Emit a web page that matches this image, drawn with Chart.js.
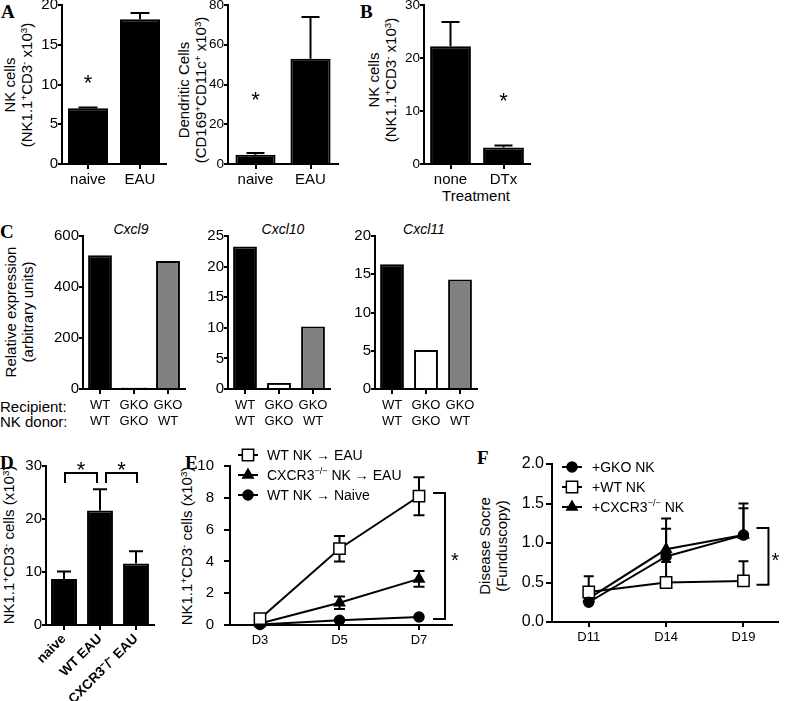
<!DOCTYPE html>
<html><head><meta charset="utf-8">
<script src="https://cdn.jsdelivr.net/npm/chart.js@4.4.1/dist/chart.umd.min.js"></script>
<style>
html,body{margin:0;padding:0;background:#fff;}
body{width:787px;height:701px;position:relative;overflow:hidden;font-family:'Liberation Sans',Arial,sans-serif;color:#000;}
canvas{position:absolute;}
.t{position:absolute;white-space:nowrap;line-height:1.15;font-size:15px;}
.r{transform:translate(-50%,-50%) rotate(-90deg);text-align:center;}
.m{transform:translate(-50%,-50%);}
.v{transform:translate(0,-50%);}
.L{font-family:'Liberation Serif','DejaVu Serif',serif;font-weight:bold;font-size:19px;line-height:19px;}
.i{font-style:italic;font-size:14px;}
sup{font-size:0.65em;position:relative;top:-0.5em;vertical-align:baseline;line-height:0;}
</style></head><body>

<div class="t L" style="left:1px;top:2px">A</div>
<div class="t L" style="left:360px;top:2px">B</div>
<div class="t L" style="left:0px;top:222px">C</div>
<div class="t L" style="left:0px;top:453px">D</div>
<div class="t L" style="left:185px;top:453px">E</div>
<div class="t L" style="left:477px;top:448px">F</div>

<div class="t r" style="left:17.5px;top:85px">NK cells<br>(NK1.1<sup>+</sup>CD3<sup>-</sup> x10<sup>3</sup>)</div>
<div class="t r" style="left:192px;top:90px">Dendritic Cells<br>(CD169<sup>+</sup>CD11c<sup>+</sup> x10<sup>3</sup>)</div>
<div class="t r" style="left:381.5px;top:80px">NK cells<br>(NK1.1<sup>+</sup>CD3<sup>-</sup> x10<sup>3</sup>)</div>
<div class="t m" style="left:476px;top:196px">Treatment</div>

<div class="t r" style="left:19px;top:312px">Relative expression<br>(arbitrary units)</div>
<div class="t i m" style="left:131px;top:229px">Cxcl9</div>
<div class="t i m" style="left:283px;top:229px">Cxcl10</div>
<div class="t i m" style="left:424px;top:229px">Cxcl11</div>
<div class="t v" style="left:0px;top:407px">Recipient:</div>
<div class="t v" style="left:0px;top:422px">NK donor:</div>

<div class="t r" style="left:9px;top:545px">NK1.1<sup>+</sup>CD3<sup>-</sup> cells (x10<sup>3</sup>)</div>
<div class="t r" style="left:187px;top:546px">NK1.1<sup>+</sup>CD3<sup>-</sup> cells (x10<sup>3</sup>)</div>
<div class="t r" style="left:493px;top:546px">Disease Socre<br>(Funduscopy)</div>

<script>
// ---------------- DATA ----------------
const a1Categories = ['naive', 'EAU'];
const a1Values = [7.0, 18.2];
const a1Errors = [0.1, 0.8];

const a2Categories = ['naive', 'EAU'];
const a2Values = [4.6, 53];
const a2Errors = [0.9, 21];

const bCategories = ['none', 'DTx'];
const bValues = [22.2, 3.1];
const bErrors = [4.6, 0.4];

const cRecipients = ['WT', 'GKO', 'GKO'];
const cDonors = ['WT', 'GKO', 'WT'];
const cxcl9Values = [525, 6, 502];
const cxcl10Values = [23.3, 1.0, 10.2];
const cxcl11Values = [16.3, 5.1, 14.3];

const dCategories = ['naive', 'WT EAU', 'CXCR3\u207B/\u207B EAU'];
const dValues = [8.7, 21.6, 11.6];
const dErrors = [1.4, 4.0, 2.3];

const eDays = ['D3', 'D5', 'D7'];
const eWtEau = [0.4, 4.8, 8.1];
const eWtEauErr = [0, 0.8, 1.2];
const eCxcr3Eau = [0.1, 1.4, 2.9];
const eCxcr3EauErr = [0, 0.4, 0.5];
const eWtNaive = [0.03, 0.3, 0.5];
const eWtNaiveErr = [0, 0, 0];

const fDays = ['D11', 'D14', 'D19'];
const fGko = [0.25, 0.83, 1.10];
const fGkoErr = [0, 0.35, 0.34];
const fWt = [0.38, 0.50, 0.52];
const fWtErr = [0.20, 0.26, 0.25];
const fCxcr3 = [0.30, 0.92, 1.10];
const fCxcr3Err = [0, 0.39, 0.40];

// ---------------- HELPERS ----------------
const FONT = "'Liberation Sans', Arial, sans-serif";
Chart.defaults.font.family = FONT;
Chart.defaults.color = '#000';

function mkCanvas(g) {
  const c = document.createElement('canvas');
  const w = (g.R - g.L) + g.yW + g.pr, h = (g.B - g.T) + g.pt + g.xH;
  c.width = w; c.height = h;
  c.style.left = (g.L - g.yW) + 'px'; c.style.top = (g.T - g.pt) + 'px';
  c.style.width = w + 'px'; c.style.height = h + 'px';
  document.body.appendChild(c);
  return c;
}
function gridOpts(len) {
  return { display: true, offset: false, drawOnChartArea: false, drawTicks: true, tickLength: len, color: '#000', lineWidth: 2 };
}
const borderOpts = { display: true, color: '#000', width: 2 };

function yScale(g, max, step, o) {
  return {
    min: 0, max: max,
    ticks: { stepSize: step, color: '#000', font: { family: FONT, size: o.yFont }, padding: o.yPad, callback: o.yFmt || (v => v) },
    grid: gridOpts(o.yTick), border: borderOpts,
    afterFit(s) { s.width = g.yW; }
  };
}
function xCat(g, size, extra) {
  return {
    type: 'category', offset: true, grid: gridOpts(5), border: borderOpts,
    ticks: Object.assign({ color: '#000', font: { family: FONT, size: size }, padding: 2, maxRotation: 0, minRotation: 0, autoSkip: false }, extra || {}),
    afterFit(s) { s.height = g.xH; }
  };
}

const errorBarPlugin = {
  id: 'errorBars',
  beforeDatasetsDraw(chart) {
    const ctx = chart.ctx;
    chart.data.datasets.forEach((ds, di) => {
      if (!ds.errUp) return;
      const meta = chart.getDatasetMeta(di);
      const ys = chart.scales[meta.yAxisID];
      ctx.save();
      ctx.strokeStyle = '#000'; ctx.lineWidth = 2; ctx.lineCap = 'butt';
      meta.data.forEach((el, i) => {
        const d = ds.data[i];
        const v = (typeof d === 'object') ? d.y : d;
        const cw = ds.capW || 10;
        const y0 = ys.getPixelForValue(v);
        const segs = [];
        if (ds.errUp[i] > 0) segs.push(ys.getPixelForValue(v + ds.errUp[i]));
        if (ds.errDown && ds.errDown[i] > 0) segs.push(ys.getPixelForValue(v - ds.errDown[i]));
        segs.forEach(y1 => {
          ctx.beginPath();
          ctx.moveTo(el.x, y0); ctx.lineTo(el.x, y1);
          ctx.moveTo(el.x - cw / 2, y1); ctx.lineTo(el.x + cw / 2, y1);
          ctx.stroke();
        });
      });
      ctx.restore();
    });
  }
};

function starsPlugin(items, size) {
  return {
    id: 'stars',
    afterDatasetsDraw(chart) {
      const ctx = chart.ctx, xs = chart.scales.x, ys = chart.scales.y;
      ctx.save(); ctx.fillStyle = '#000';
      ctx.font = size + 'px ' + FONT; ctx.textAlign = 'center'; ctx.textBaseline = 'alphabetic';
      items.forEach(it => {
        ctx.fillText('*', xs.getPixelForValue(it.i), ys.getPixelForValue(it.v) + 0.55 * size);
      });
      ctx.restore();
    }
  };
}

function bracketPlugin(items, size) {
  return {
    id: 'brackets',
    afterDatasetsDraw(chart) {
      const ctx = chart.ctx, xs = chart.scales.x, ys = chart.scales.y;
      ctx.save(); ctx.strokeStyle = '#000'; ctx.fillStyle = '#000'; ctx.lineWidth = 2;
      ctx.font = size + 'px ' + FONT; ctx.textAlign = 'center'; ctx.textBaseline = 'alphabetic';
      items.forEach(b => {
        ctx.beginPath();
        if (b.type === 'h') {
          const x0 = xs.getPixelForValue(b.from) + b.d0, x1 = xs.getPixelForValue(b.to) + b.d1;
          const y = ys.getPixelForValue(b.y), yl = ys.getPixelForValue(b.yEnd);
          ctx.moveTo(x0, yl); ctx.lineTo(x0, y); ctx.lineTo(x1, y); ctx.lineTo(x1, yl);
          ctx.stroke();
          ctx.fillText('*', (x0 + x1) / 2, y - b.gap + 0.55 * size);
        } else {
          const x = xs.getPixelForValue(b.at) + b.dx;
          const yt = ys.getPixelForValue(b.top), yb = ys.getPixelForValue(b.bottom);
          ctx.moveTo(x - b.arm, yt); ctx.lineTo(x, yt); ctx.lineTo(x, yb); ctx.lineTo(x - b.arm, yb);
          ctx.stroke();
          ctx.fillText('*', x + b.starDx, (yt + yb) / 2 + 0.55 * size);
        }
      });
      ctx.restore();
    }
  };
}

function drawMarker(ctx, style, r, x, y, fill) {
  ctx.save();
  ctx.fillStyle = fill; ctx.strokeStyle = '#000'; ctx.lineWidth = 1.5;
  ctx.beginPath();
  if (style === 'circle') { ctx.arc(x, y, r, 0, Math.PI * 2); }
  else if (style === 'rect') { const s = r * Math.SQRT1_2; ctx.rect(x - s, y - s, 2 * s, 2 * s); }
  else if (style === 'triangle') {
    let a = 0;
    ctx.moveTo(x + Math.sin(a) * r, y - Math.cos(a) * r);
    a += 2 * Math.PI / 3; ctx.lineTo(x + Math.sin(a) * r, y - Math.cos(a) * r);
    a += 2 * Math.PI / 3; ctx.lineTo(x + Math.sin(a) * r, y - Math.cos(a) * r);
    ctx.closePath();
  }
  ctx.fill(); ctx.stroke();
  ctx.restore();
}
function drawRich(ctx, text, x, cy, size) {
  const parts = text.split(/(\^\{[^}]*\})/);
  const base = cy + 0.36 * size;
  let cx = x;
  ctx.textAlign = 'left'; ctx.textBaseline = 'alphabetic'; ctx.fillStyle = '#000';
  parts.forEach(p => {
    if (!p) return;
    if (p.startsWith('^{')) {
      const s = p.slice(2, -1);
      ctx.font = (size * 0.65) + 'px ' + FONT;
      ctx.fillText(s, cx, base - 0.42 * size);
      cx += ctx.measureText(s).width;
    } else {
      ctx.font = size + 'px ' + FONT;
      ctx.fillText(p, cx, base);
      cx += ctx.measureText(p).width;
    }
  });
}
function legendPlugin(o) {
  return {
    id: 'lineLegend',
    afterDraw(chart) {
      const ctx = chart.ctx, ca = chart.chartArea;
      chart.data.datasets.forEach((ds, i) => {
        const cx = ca.left + o.dx, cy = ca.top + o.dy + i * o.gap;
        ctx.save(); ctx.strokeStyle = '#000'; ctx.lineWidth = 2;
        ctx.beginPath(); ctx.moveTo(cx - o.len / 2, cy); ctx.lineTo(cx + o.len / 2, cy); ctx.stroke();
        ctx.restore();
        drawMarker(ctx, ds.pointStyle, ds.pointRadius, cx, cy, ds.pointBackgroundColor);
        ctx.save(); drawRich(ctx, ds.legendText, cx + o.textDx, cy, o.size); ctx.restore();
      });
    }
  };
}

function barChart(g, labels, values, errs, colors, ymax, step, o) {
  const c = mkCanvas(g);
  const plugins = [errorBarPlugin];
  if (o.stars) plugins.push(starsPlugin(o.stars, o.starSize || 22));
  if (o.brackets) plugins.push(bracketPlugin(o.brackets, o.starSize || 22));
  return new Chart(c, {
    type: 'bar',
    data: { labels: labels, datasets: [{
      data: values, errUp: errs, capW: o.capW,
      backgroundColor: colors, borderColor: '#000', borderWidth: 2, borderSkipped: 'start',
      barPercentage: o.bp, categoryPercentage: 1
    }] },
    options: {
      responsive: false, animation: false, events: [],
      layout: { padding: { top: g.pt, right: g.pr, left: 0, bottom: 0 } },
      plugins: { legend: { display: false }, tooltip: { enabled: false } },
      scales: { x: xCat(g, o.xFont, o.xTicks), y: yScale(g, ymax, step, o) }
    },
    plugins: plugins
  });
}

function lineChart(g, days, series, xmin, xmax, ymax, step, o) {
  const c = mkCanvas(g);
  const datasets = series.map(s => ({
    legendText: s.label,
    data: s.values.map((v, i) => ({ x: i, y: v })),
    errUp: s.errUp, errDown: s.errDown, capW: o.capW,
    borderColor: '#000', borderWidth: 2, tension: 0, fill: false, clip: false,
    pointStyle: s.style, pointRadius: s.radius, pointBackgroundColor: s.fill,
    pointBorderColor: '#000', pointBorderWidth: 1.5
  }));
  return new Chart(c, {
    type: 'line',
    data: { datasets: datasets },
    options: {
      responsive: false, animation: false, events: [],
      layout: { padding: { top: g.pt, right: g.pr, left: 0, bottom: 0 } },
      plugins: { legend: { display: false }, tooltip: { enabled: false } },
      scales: {
        x: {
          type: 'linear', min: xmin, max: xmax,
          afterBuildTicks(s) { s.ticks = days.map((d, i) => ({ value: i })); },
          ticks: { callback: v => days[v], color: '#000', font: { family: FONT, size: o.xFont }, padding: 3, maxRotation: 0, minRotation: 0, autoSkip: false },
          grid: gridOpts(5), border: borderOpts,
          afterFit(s) { s.height = g.xH; }
        },
        y: yScale(g, ymax, step, o)
      }
    },
    plugins: [errorBarPlugin, bracketPlugin(o.brackets, 20), legendPlugin(o.legend)]
  });
}

// ---------------- PANEL A ----------------
barChart({ L: 62, R: 166, T: 5, B: 164, yW: 40, pt: 10, pr: 6, xH: 32 },
  a1Categories, a1Values, a1Errors, ['#000', '#000'], 20, 5,
  { bp: 0.77, capW: 19, xFont: 15, yFont: 15, yPad: 0, yTick: 4, stars: [{ i: 0, v: 10.8 }] });

barChart({ L: 228, R: 338, T: 5, B: 164, yW: 30, pt: 10, pr: 6, xH: 32 },
  a2Categories, a2Values, a2Errors, ['#000', '#000'], 80, 20,
  { bp: 0.73, capW: 18, xFont: 15, yFont: 13.5, yPad: 0, yTick: 4, stars: [{ i: 0, v: 34.7 }] });

// ---------------- PANEL B ----------------
barChart({ L: 424, R: 530, T: 5, B: 164, yW: 30, pt: 10, pr: 6, xH: 28 },
  bCategories, bValues, bErrors, ['#000', '#000'], 30, 10,
  { bp: 0.77, capW: 18, xFont: 15, yFont: 13.5, yPad: 0, yTick: 4, stars: [{ i: 1, v: 12.8 }] });

// ---------------- PANEL C ----------------
const cLabels = cRecipients.map((r, i) => [r, cDonors[i]]);
const cColors = ['#000', '#fff', '#808080'];
const cOpts = { bp: 0.7, xFont: 13, yFont: 15, yPad: 0, yTick: 4, xTicks: { padding: 4 } };
barChart({ L: 83, R: 185, T: 236, B: 389, yW: 36, pt: 10, pr: 4, xH: 42 },
  cLabels, cxcl9Values, null, cColors, 600, 200, cOpts);
barChart({ L: 228, R: 330, T: 236, B: 389, yW: 30, pt: 10, pr: 4, xH: 42 },
  cLabels, cxcl10Values, null, cColors, 25, 5, cOpts);
barChart({ L: 375, R: 477, T: 236, B: 389, yW: 30, pt: 10, pr: 4, xH: 42 },
  cLabels, cxcl11Values, null, cColors, 20, 5, cOpts);

// ---------------- PANEL D ----------------
barChart({ L: 46, R: 154, T: 466, B: 625, yW: 30, pt: 12, pr: 6, xH: 76 },
  dCategories, dValues, dErrors, ['#000', '#000', '#000'], 30, 10,
  { bp: 0.72, capW: 14, xFont: 13.5, yFont: 15, yPad: 0, yTick: 4, starSize: 22,
    xTicks: { maxRotation: 45, minRotation: 45, padding: 1, font: { family: FONT, size: 13.5, weight: 'bold' } },
    brackets: [
      { type: 'h', from: 0, to: 1, d0: 1, d1: -3, y: 28.7, yEnd: 26.8, gap: 8 },
      { type: 'h', from: 1, to: 2, d0: 6, d1: 1, y: 28.7, yEnd: 26.8, gap: 8 }
    ] });

// ---------------- PANEL E ----------------
lineChart({ L: 230, R: 452, T: 466, B: 625, yW: 40, pt: 26, pr: 12, xH: 30 },
  eDays, [
    { label: 'WT NK \u2192 EAU', values: eWtEau, errUp: eWtEauErr, errDown: eWtEauErr, style: 'rect', radius: 8, fill: '#fff' },
    { label: 'CXCR3^{\u2212/\u2212} NK \u2192 EAU', values: eCxcr3Eau, errUp: eCxcr3EauErr, errDown: eCxcr3EauErr, style: 'triangle', radius: 6, fill: '#000' },
    { label: 'WT NK \u2192 Naive', values: eWtNaive, errUp: eWtNaiveErr, errDown: eWtNaiveErr, style: 'circle', radius: 5, fill: '#000' }
  ], -0.377, 2.415, 10, 2,
  { capW: 11, xFont: 13, yFont: 15, yPad: 10, yTick: 6,
    brackets: [{ type: 'v', at: 2, dx: 26, top: 8.3, bottom: 0.38, arm: 12, starDx: 10 }],
    legend: { dx: 18, dy: -11, gap: 20, len: 20, textDx: 19, size: 14 } });

// ---------------- PANEL F ----------------
lineChart({ L: 552, R: 785, T: 464, B: 622, yW: 38, pt: 14, pr: 2, xH: 30 },
  fDays, [
    { label: '+GKO NK', values: fGko, errUp: fGkoErr, style: 'circle', radius: 5, fill: '#000' },
    { label: '+WT NK', values: fWt, errUp: fWtErr, style: 'rect', radius: 8, fill: '#fff' },
    { label: '+CXCR3^{\u2212/\u2212} NK', values: fCxcr3, errUp: fCxcr3Err, style: 'triangle', radius: 6, fill: '#000' }
  ], -0.475, 2.44, 2, 0.5,
  { capW: 10, xFont: 13, yFont: 16, yPad: 2, yTick: 6, yFmt: v => v.toFixed(1),
    brackets: [{ type: 'v', at: 2, dx: 25, top: 1.19, bottom: 0.47, arm: 12, starDx: 7 }],
    legend: { dx: 20, dy: 3, gap: 20, len: 20, textDx: 20, size: 14 } });
</script>
</body></html>
